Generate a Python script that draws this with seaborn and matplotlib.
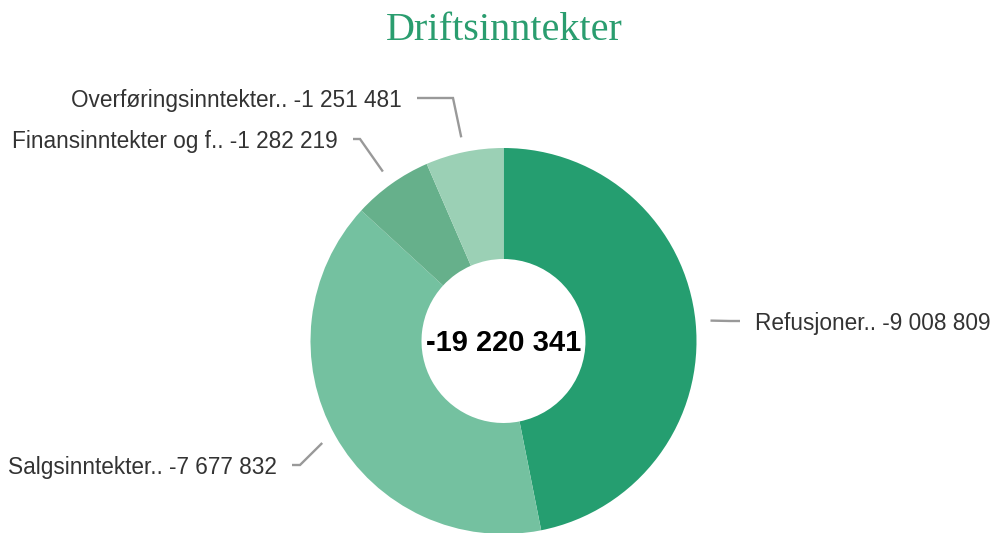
import matplotlib
matplotlib.use("Agg")
import matplotlib.pyplot as plt
import seaborn as sns
import numpy as np

sns.set_theme(style="white")
plt.rcParams['font.family'] = ['Liberation Sans', 'DejaVu Sans']

# ---- data ----
categories = ["Refusjoner..", "Salgsinntekter..", "Finansinntekter og f..", "Overføringsinntekter.."]
values = [-9008809, -7677832, -1282219, -1251481]
total_label = "-19 220 341"
title = "Driftsinntekter"
colors = ["#259e70", "#74c1a0", "#66b08b", "#9bd0b5"]

def fmt(v):
    return f"{v:,}".replace(",", " ")

W, H = 995, 533
fig = plt.figure(figsize=(W / 100, H / 100), dpi=100)
ax = fig.add_axes([0, 0, 1, 1])

CX, CY = 503.5, H - 341
R, HOLE = 193, 82
mags = [abs(v) for v in values]
wedges, _ = ax.pie(mags, colors=colors, startangle=90, counterclock=False,
                   radius=R, center=(CX, CY),
                   wedgeprops=dict(width=R - HOLE, linewidth=0))
ax.set_xlim(0, W)
ax.set_ylim(0, H)
ax.set_aspect("equal")
ax.axis("off")

# label layout (pixel coords, y measured from top): text x, text y, side, elbow x
layout = [
    (755, 321, "left", 730),
    (277, 465, "right", 300),
    (338, 139, "right", 360),
    (402, 98, "right", 453),
]

tot = sum(mags)
cum = 0
for cat, v, m, (tx, ty, side, ex) in zip(categories, values, mags, layout):
    mid = 90 - 360 * (cum + m / 2) / tot
    cum += m
    a = np.deg2rad(mid)
    px = CX + (R + 15) * np.cos(a)
    py = CY + (R + 15) * np.sin(a)
    endx = tx - 15 if side == "left" else tx + 15
    yy = H - ty
    ax.plot([px, ex, endx], [py, yy, yy], color="#999999", lw=1.7,
            solid_capstyle="butt", solid_joinstyle="miter")
    ax.text(tx, yy - 2.5, f"{cat} {fmt(v)}", ha=side, va="center",
            fontsize=16.3, color="#333333")

ax.text(CX, CY - 2, total_label, ha="center", va="center", fontsize=21,
        fontweight="bold", color="#000000")

fig.text(504 / W, 1 - 31 / H, title, ha="center", va="center", fontsize=29,
         color="#2a9d6f", family=["Liberation Serif", "DejaVu Serif"])

fig.savefig("out.png", dpi=100)
